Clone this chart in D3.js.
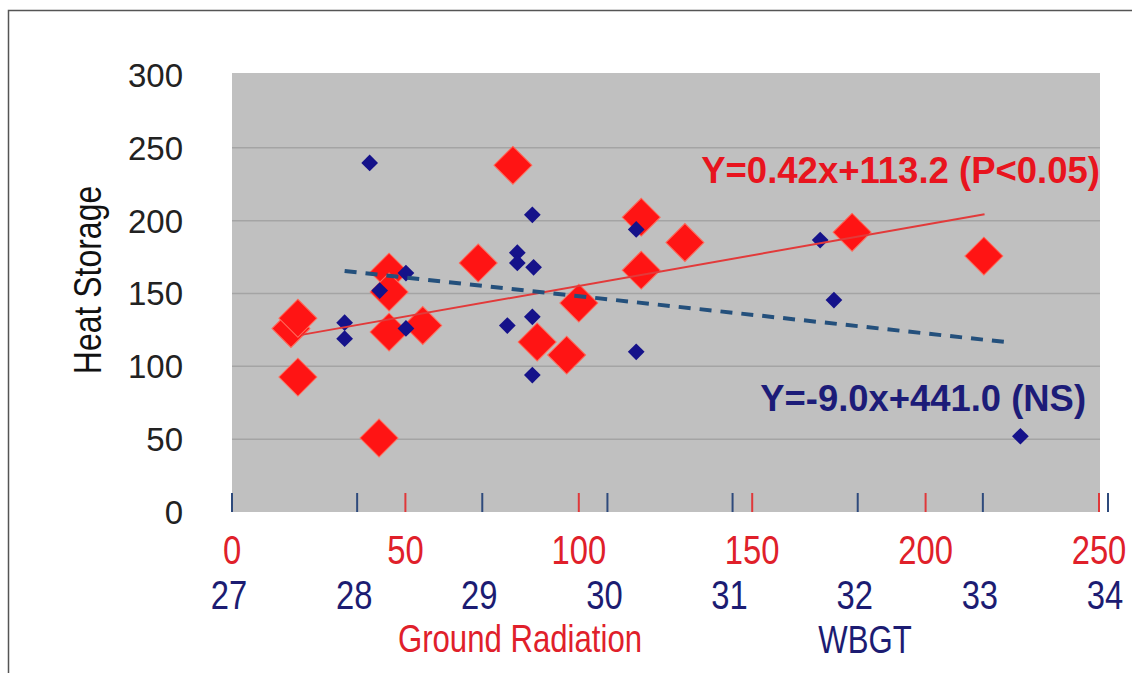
<!DOCTYPE html>
<html>
<head>
<meta charset="utf-8">
<script src="https://cdn.jsdelivr.net/npm/d3@7"></script>
<style>
  body { margin: 0; background: #fff; }
  text { font-family: "Liberation Sans", Arial, sans-serif; }
</style>
</head>
<body>
<div id="chart"></div>
<script>
// Heat storage vs ground radiation (red) and WBGT (blue)
const groundRad = [17, 19, 19, 42.4, 45.3, 45.3, 45.3, 55, 71, 81, 88, 96.5, 100, 118, 118, 130.6, 178.8, 216.8];
const heatRed   = [126, 133, 92.6, 50.8, 164.7, 151, 123.5, 128, 171, 238, 116.7, 107.7, 143.4, 202.4, 166, 185, 192, 175.7];

const wbgt      = [27.90, 27.90, 28.10, 28.18, 28.39, 28.39, 29.20, 29.28, 29.28, 29.40, 29.41, 29.40, 29.40, 30.23, 30.23, 31.70, 31.81, 33.30];
const heatBlue  = [130, 119, 239.6, 152, 164, 126, 128, 178, 171, 204, 168, 134, 94, 194, 110, 186.7, 145.5, 52];

// trend lines
const redFitX = [20, 217];
const redSlope = 0.42, redIntercept = 113.2;
const blueFitX = [27.9, 33.2];
const blueFitY = [165.5, 116.5];

const yTicks = [0, 50, 100, 150, 200, 250, 300];
const grTicks = [0, 50, 100, 150, 200, 250];
const wbgtTicks = [27, 28, 29, 30, 31, 32, 33, 34];

const width = 1132, height = 673;
const narrow = 0.82; // fake "Arial Narrow" by squeezing Liberation Sans

const svg = d3.select("#chart")
  .append("svg")
  .attr("width", width)
  .attr("height", height);

const x = d3.scaleLinear().domain([0, 250]).range([232, 1099]);
const xW = d3.scaleLinear().domain([27, 34]).range([232, 1108]);
const y = d3.scaleLinear().domain([0, 300]).range([512, 75]);

// outer frame
svg.append("rect")
  .attr("x", 8.5).attr("y", 10.5)
  .attr("width", width + 20).attr("height", height + 20)
  .attr("fill", "none")
  .attr("stroke", "#555")
  .attr("stroke-width", 1.5);

// plot area
svg.append("rect")
  .attr("x", 232).attr("y", 73)
  .attr("width", 1100 - 232).attr("height", 512 - 73)
  .attr("fill", "#c0c0c0");

// gridlines
svg.append("g")
  .selectAll("line")
  .data(yTicks.filter(d => d > 0 && d < 300))
  .join("line")
  .attr("x1", 232).attr("x2", 1100)
  .attr("y1", d => y(d)).attr("y2", d => y(d))
  .attr("stroke", "#a4a4a4")
  .attr("stroke-width", 1.5);

// y labels
svg.append("g")
  .selectAll("text")
  .data(yTicks)
  .join("text")
  .attr("x", 183)
  .attr("y", d => y(d))
  .attr("dy", "0.36em")
  .attr("text-anchor", "end")
  .attr("font-size", 33)
  .attr("fill", "#222")
  .text(d => d);

svg.append("text")
  .attr("transform", `translate(101,280) rotate(-90) scale(${narrow},1)`)
  .attr("text-anchor", "middle")
  .attr("font-size", 39)
  .attr("fill", "#111")
  .text("Heat Storage");

// x ticks (inside plot, bottom)
svg.append("g")
  .selectAll("line")
  .data(grTicks)
  .join("line")
  .attr("x1", d => x(d)).attr("x2", d => x(d))
  .attr("y1", 493).attr("y2", 512)
  .attr("stroke", "#e0383a")
  .attr("stroke-width", 2);

svg.append("g")
  .selectAll("line")
  .data(wbgtTicks)
  .join("line")
  .attr("x1", d => xW(d)).attr("x2", d => xW(d))
  .attr("y1", 493).attr("y2", 512)
  .attr("stroke", "#2e4a7c")
  .attr("stroke-width", 2);

// x labels
svg.append("g")
  .selectAll("text")
  .data(grTicks)
  .join("text")
  .attr("transform", d => `translate(${x(d)},564) scale(${narrow},1)`)
  .attr("text-anchor", "middle")
  .attr("font-size", 40)
  .attr("fill", "#e0202a")
  .text(d => d);

svg.append("g")
  .selectAll("text")
  .data(wbgtTicks)
  .join("text")
  .attr("transform", d => `translate(${xW(d) - 3},609) scale(${narrow},1)`)
  .attr("text-anchor", "middle")
  .attr("font-size", 40)
  .attr("fill", "#1c1c72")
  .text(d => d);

svg.append("text")
  .attr("transform", `translate(520,652) scale(${narrow},1)`)
  .attr("text-anchor", "middle")
  .attr("font-size", 38)
  .attr("fill", "#e0202a")
  .text("Ground Radiation");

svg.append("text")
  .attr("transform", `translate(865,653) scale(${narrow},1)`)
  .attr("text-anchor", "middle")
  .attr("font-size", 38)
  .attr("fill", "#1c1c72")
  .text("WBGT");

// points
const bigDiamond = d3.symbol().type(d3.symbolSquare).size(720);
const smallDiamond = d3.symbol().type(d3.symbolSquare).size(140);

svg.append("g")
  .selectAll("path")
  .data(groundRad.map((g, i) => [g, heatRed[i]]))
  .join("path")
  .attr("d", bigDiamond)
  .attr("transform", d => `translate(${x(d[0])},${y(d[1])}) rotate(45)`)
  .attr("fill", "#ff1414")
  .attr("stroke", "#ff6a5a")
  .attr("stroke-width", 1);

svg.append("g")
  .selectAll("path")
  .data(wbgt.map((w, i) => [w, heatBlue[i]]))
  .join("path")
  .attr("d", smallDiamond)
  .attr("transform", d => `translate(${xW(d[0])},${y(d[1])}) rotate(45)`)
  .attr("fill", "#15128a");

// trend lines
svg.append("line")
  .attr("x1", x(redFitX[0])).attr("y1", y(redSlope * redFitX[0] + redIntercept))
  .attr("x2", x(redFitX[1])).attr("y2", y(redSlope * redFitX[1] + redIntercept))
  .attr("stroke", "#e23a3a")
  .attr("stroke-width", 2);

svg.append("line")
  .attr("x1", xW(blueFitX[0])).attr("y1", y(blueFitY[0]))
  .attr("x2", xW(blueFitX[1])).attr("y2", y(blueFitY[1]))
  .attr("stroke", "#24507c")
  .attr("stroke-width", 4)
  .attr("stroke-dasharray", "12,9");

// equations
svg.append("text")
  .attr("x", 1100).attr("y", 183)
  .attr("text-anchor", "end")
  .attr("font-weight", "bold")
  .attr("font-size", 36.5)
  .attr("fill", "#e8141e")
  .text("Y=0.42x+113.2 (P<0.05)");

svg.append("text")
  .attr("x", 1086).attr("y", 411)
  .attr("text-anchor", "end")
  .attr("font-weight", "bold")
  .attr("font-size", 36.4)
  .attr("fill", "#1c1c78")
  .text("Y=-9.0x+441.0 (NS)");
</script>
</body>
</html>
